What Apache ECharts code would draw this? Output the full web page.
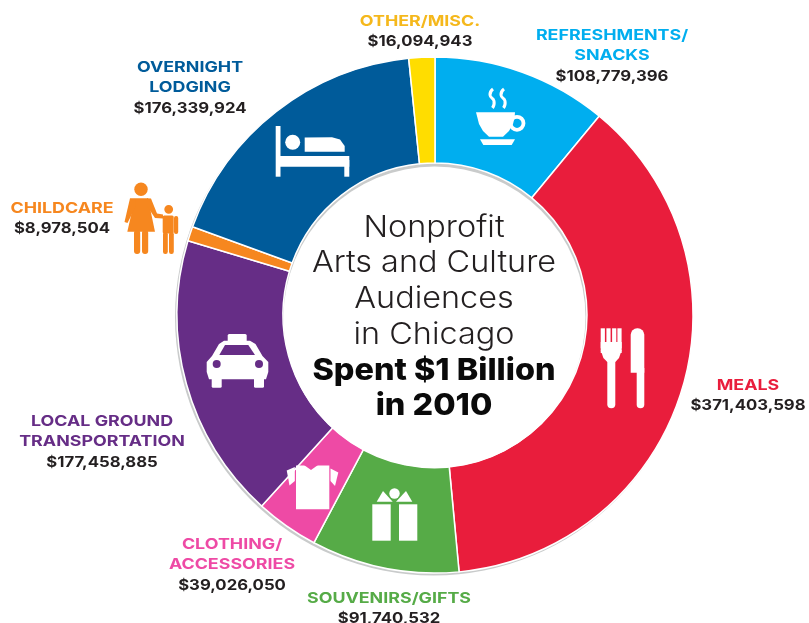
<!DOCTYPE html>
<html><head><meta charset="utf-8">
<style>html,body{margin:0;padding:0;background:#fff}#c{width:809px;height:623px}</style>
<script src="https://cdn.jsdelivr.net/npm/echarts@6/dist/echarts.min.js"></script>
</head><body><div id="c"></div>
<script>
const categories=["Refreshments/Snacks","Meals","Souvenirs/Gifts","Clothing/Accessories","Local Ground Transportation","Childcare","Overnight Lodging","Other/Misc."];
const values=[108779396,371403598,91740532,39026050,177458885,8978504,176339924,16094943];
const colors=["#00aeef","#e91d3c","#56ab47","#ee4aa5","#662d86","#f6871f","#005b9a","#ffdd00"];
const labelLines=[["REFRESHMENTS/","SNACKS"],["MEALS"],["SOUVENIRS/GIFTS"],["CLOTHING/","ACCESSORIES"],["LOCAL GROUND","TRANSPORTATION"],["CHILDCARE"],["OVERNIGHT","LODGING"],["OTHER/MISC."]];
const labelAnchors=[[612,35],[748,385],[389,598],[232,544],[102,421],[62,208],[190,67],[420,21]];
const titleLines=["Nonprofit","Arts and Culture","Audiences","in Chicago"];
const titleBold=["Spent $1 Billion","in 2010"];
const FF='Inter, "Open Sans", sans-serif';
const W='#fff';
const g=[];
const rect=(x,y,w,h,fill=W,r=0)=>g.push({type:'rect',z:10,shape:{x,y,width:w,height:h,r},style:{fill}});
const circ=(cx,cy,r,fill=W)=>g.push({type:'circle',z:10,shape:{cx,cy,r},style:{fill}});
const poly=(points,fill=W,smooth=0)=>g.push({type:'polygon',z:10,shape:{points,smooth},style:{fill}});
const txt=(x,y,text,fill,size,weight,sx)=>g.push({type:'text',z:11,x,y,scaleX:sx,style:{text,fill,font:`${weight} ${size}px ${FF}`,textAlign:'center',textVerticalAlign:'middle'}});
// inner disc (sits slightly low so the grey rim shows along the top of the hole)
circ(434.5,317.5,151);
// bed
rect(275.7,126,4.8,50.7);circ(292.7,142.3,7.5);
poly([[304.7,151.7],[304.7,137.5],[332,137.3],[340,139.5],[344.7,146],[344.7,151.7]]);
rect(280,156,69.3,10.7);rect(344.3,160,5,16.7);
// family
const O='#f6871f';
poly([[135,198.3],[148,198.3],[155,231.7],[127.3,231.7]],O);
poly([[135,198.3],[130,198.3],[124.5,222],[127.5,223],[136,206]],O);
poly([[147,198.3],[151,198.5],[157,213.5],[163,214.5],[163,218.5],[155,218],[147,206]],O);
rect(134,230,6.2,24,O,3);rect(142,230,6.2,24,O,3);
circ(168.7,209.3,4.4,O);
rect(162.7,215.5,11,18,O,1.5);rect(174,216,4.2,18,O,2);
rect(163,232,4.8,22,O,2.2);rect(169,232,4.8,22,O,2.2);
circ(141,189.3,6.7,O);
// taxi
rect(227.7,334,19,8,W,1.5);
poly([[206.7,372],[206.7,362],[212,356],[219,344],[224,340.7],[250,340.7],[255.5,344],[262.5,356],[268.3,362],[268.3,372],[266,379.3],[209,379.3]]);
rect(211.7,376,10,11.7,W,1.5);rect(254,376,10,11.7,W,1.5);
poly([[219.3,355],[255,355],[248.3,345],[225,345]],'#662d86');
circ(216.7,364,4,'#662d86');circ(259,364,4,'#662d86');
// shirt
poly([[296,465.5],[329.3,465.5],[329.3,509.3],[296,509.3]]);
poly([[286.7,470.5],[294.8,467],[294.8,481],[289.5,485.5]]);
poly([[330.5,468.5],[338.3,472.5],[335,486],[330.5,481]]);
poly([[304,465],[318,465],[311,470]],'#ee4aa5');
// gift
rect(372.3,504.3,18.4,36.4);rect(399,504.3,18.3,36.4);
poly([[376.7,501.7],[392.7,501.7],[383,491]]);poly([[396,501.7],[412.3,501.7],[406,491]]);
circ(394.5,493.5,5.2);
// cup
poly([[476,112.3],[515,112.3],[514.5,118],[513,124],[509,131],[503,136.7],[489,136.7],[483,131],[479,124],[477.5,118]]);
g.push({type:'ring',z:10,shape:{cx:517,cy:123.3,r:8.4,r0:4.6},style:{fill:W}});
poly([[480,139.3],[515,139.3],[511.7,145],[483.3,145]]);
[0,11].forEach(d=>g.push({type:'polyline',z:10,shape:{points:[[493+d,89],[490+d,95],[494+d,101],[492.5+d,108]],smooth:0.6},style:{stroke:W,fill:null,lineWidth:3}}));
// fork and knife
[600.7,606.4,612.1,617.4].forEach(x=>rect(x,328.3,4.2,20));
rect(600.7,342,21,11);
poly([[600.7,350],[621.7,350],[619,358],[615.3,362],[607.3,362],[603.4,358]]);
rect(607.3,358,8,50.3,W,4);
rect(630.7,328.3,13.6,44.5,W,[6.5,6.5,0,0]);
rect(636.7,368,7.6,40.3,W,[0,0,3.8,3.8]);
// outer labels
labelLines.forEach((lines,i)=>{
  const [x,y]=labelAnchors[i];
  lines.forEach((t,k)=>txt(x,y+k*20.5,t,colors[i]==='#ffdd00'?'#f5b81c':colors[i],15,700,1.19));
  txt(x,y+lines.length*20.5,'$'+values[i].toLocaleString('en-US'),'#231f20',15,700,1.115);
});
// centre text
titleLines.forEach((t,i)=>txt(434,227.5+i*35.8,t,'#231f20',30,300,1.08));
titleBold.forEach((t,i)=>txt(434,370.5+i*35,t,'#0a0a0a',30,800,1.08));
const chart=echarts.init(document.getElementById('c'),null,{renderer:'canvas'});
chart.setOption({
  animation:false,
  graphic:{elements:[{type:'circle',z:-1,shape:{cx:433.5,cy:317,r:258.5},style:{fill:'#c9cbcb'}},{type:'group',children:g}]},
  series:[{type:'pie',radius:[152,258],center:[435,315],startAngle:90,clockwise:true,silent:true,
    label:{show:false},labelLine:{show:false},
    itemStyle:{borderColor:'#fff',borderWidth:1.5},
    data:categories.map((name,i)=>({name,value:values[i],itemStyle:{color:colors[i]}}))}]
});
</script></body></html>
